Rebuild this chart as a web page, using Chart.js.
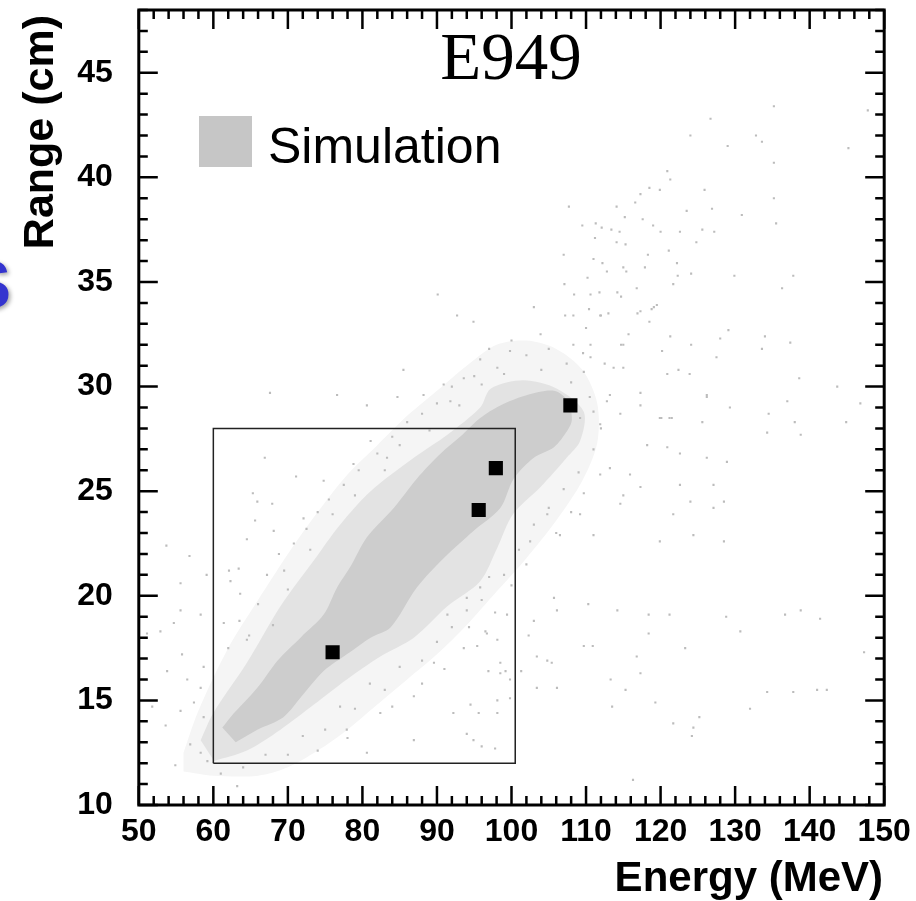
<!DOCTYPE html>
<html>
<head>
<meta charset="utf-8">
<script src="https://cdn.jsdelivr.net/npm/chart.js@4.4.1/dist/chart.umd.min.js"></script>
<style>
  html, body { margin: 0; padding: 0; background: #fff; }
  #wrap { width: 916px; height: 901px; }
</style>
</head>
<body>
<div id="wrap"><canvas id="erChart" width="916" height="901"></canvas></div>
<script>
// Axis tick labels
const energyTicks = [50, 60, 70, 80, 90, 100, 110, 120, 130, 140, 150];
const rangeTicks = [10, 15, 20, 25, 30, 35, 40, 45];

// Measured events (black squares)
const eventEnergy = [76.0, 95.6, 97.9, 107.9];
const eventRange = [17.3, 24.1, 26.1, 29.1];

// Signal box
const boxEnergy = [60, 60, 100.5, 100.5, 60];
const boxRange = [12, 28, 28, 12, 12];

// Simulation: dense core of the band, looser halo, faint outer fringe
const coreOutline = [
  [61.2, 13.7], [62.3, 14.2], [65.9, 15.6], [68.6, 16.9], [71.7, 18.0], [74.8, 19.1],
  [76.6, 20.4], [78.4, 21.4], [80.6, 22.8], [84.2, 24.2], [87.3, 25.6], [90.5, 26.8],
  [93.1, 27.6], [95.8, 28.5], [98.5, 29.1], [102.1, 29.6], [105.7, 29.8], [107.6, 29.3],
  [108.1, 28.4], [107.5, 27.9], [105.7, 27.1], [103.0, 26.6], [100.3, 25.6], [98.5, 24.2],
  [94.9, 23.1], [90.9, 21.8], [87.3, 20.4], [83.8, 18.5], [81.1, 18.0], [77.9, 17.2],
  [74.8, 16.4], [72.1, 15.3], [69.4, 14.2], [65.9, 13.6], [63.0, 13.0]
];
const haloOutline = [
  [58.3, 13.1], [60.0, 14.4], [64.5, 16.8], [69.0, 19.5], [73.5, 21.7], [77.0, 23.4],
  [81.1, 25.0], [86.9, 26.6], [91.4, 27.7], [95.8, 29.0], [97.2, 29.9], [101.6, 30.3],
  [106.1, 29.9], [109.7, 28.8], [109.2, 27.4], [107.4, 26.6], [103.9, 25.2], [100.2, 23.9],
  [98.1, 22.3], [95.8, 20.7], [91.4, 19.5], [86.9, 18.0], [82.4, 17.1], [77.9, 16.0],
  [73.5, 14.8], [69.0, 13.6], [64.5, 12.6], [60.1, 12.1]
];
const fringeOutline = [
  [56.0, 12.5], [58.0, 14.5], [62.0, 17.5], [66.0, 19.8], [70.0, 22.0], [74.0, 24.0],
  [78.0, 25.8], [82.0, 27.2], [86.0, 28.6], [90.0, 29.8], [94.0, 31.0], [98.0, 32.0],
  [102.0, 32.2], [106.0, 31.8], [109.5, 30.8], [111.5, 29.2], [111.5, 27.3], [109.5, 25.5],
  [106.0, 23.6], [102.0, 21.8], [98.0, 20.2], [94.0, 18.6], [90.0, 17.2], [86.0, 16.0],
  [82.0, 14.8], [78.0, 13.6], [74.0, 12.6], [70.0, 11.8], [66.0, 11.4], [60.0, 11.4],
  [56.0, 11.6]
];
// Simulation: scattered events outside the band
const simScatter = [
  [135.2, 43.4], [126.7, 42.8], [124.0, 42.0], [132.8, 42.0], [133.6, 41.7], [129.0, 41.5],
  [145.2, 41.4], [147.8, 43.2], [135.2, 40.7], [120.9, 40.3], [121.3, 39.9], [118.5, 39.5],
  [119.9, 39.4], [117.3, 39.2], [125.9, 39.4], [135.2, 39.0], [107.7, 38.6], [114.1, 38.6],
  [116.6, 38.8], [123.5, 38.4], [126.9, 38.5], [130.9, 38.2], [115.2, 38.1], [117.6, 38.0],
  [135.5, 37.8], [109.5, 37.7], [111.3, 37.8], [112.1, 37.6], [113.4, 37.5], [114.5, 37.4],
  [119.0, 37.7], [120.0, 37.4], [122.6, 37.4], [125.6, 37.5], [127.2, 37.4], [111.2, 37.1],
  [114.1, 36.9], [115.3, 36.8], [124.8, 36.9], [121.1, 36.5], [118.3, 36.3], [107.0, 36.3],
  [111.0, 36.1], [112.2, 35.9], [112.8, 35.5], [115.0, 35.7], [115.4, 35.5], [117.9, 35.7],
  [122.2, 35.9], [122.3, 35.3], [124.1, 35.4], [129.9, 35.3], [137.8, 35.3], [110.2, 35.2],
  [107.1, 34.9], [108.4, 34.4], [110.6, 34.4], [111.8, 34.5], [114.2, 34.5], [114.7, 34.3],
  [116.8, 34.7], [121.7, 34.9], [136.3, 34.7], [119.5, 33.9], [118.8, 33.7], [110.4, 33.7],
  [112.0, 33.4], [113.0, 33.5], [116.9, 33.5], [118.5, 33.1], [107.2, 33.4], [110.0, 32.8],
  [115.7, 32.5], [121.3, 32.4], [129.1, 32.7], [128.0, 32.3], [134.0, 32.4], [137.4, 32.1],
  [124.1, 32.0], [120.2, 31.7], [133.6, 31.8], [114.7, 32.0], [108.3, 32.0], [109.6, 31.6],
  [110.6, 31.4], [127.5, 31.4], [112.5, 31.1], [115.0, 30.9], [120.9, 30.6], [122.4, 30.8],
  [123.9, 30.6], [138.6, 30.4], [143.7, 30.0], [117.3, 29.7], [126.2, 29.6], [113.2, 29.6],
  [137.0, 29.3], [146.8, 29.2], [129.3, 29.0], [117.3, 29.1], [121.5, 28.5], [134.5, 28.7],
  [138.0, 28.3], [144.9, 28.3], [125.6, 28.3], [134.3, 27.8], [138.8, 27.7], [111.9, 28.2],
  [120.1, 28.5], [119.9, 28.5], [121.2, 28.5], [126.2, 29.5], [118.2, 27.2], [120.9, 27.1],
  [122.6, 26.8], [126.2, 26.6], [128.9, 26.4], [113.2, 26.1], [115.9, 25.8], [117.3, 25.2],
  [122.6, 25.3], [127.1, 25.3], [115.0, 24.8], [124.0, 24.5], [128.5, 24.5], [109.7, 24.9],
  [111.9, 25.8], [109.2, 23.9], [114.6, 24.4], [121.7, 23.9], [127.1, 24.2], [106.5, 22.9],
  [111.0, 22.9], [119.9, 22.6], [124.4, 22.9], [128.5, 22.6], [104.8, 23.9], [105.7, 19.9],
  [102.5, 22.6], [104.8, 16.9], [106.1, 19.3], [110.3, 19.6], [114.2, 19.3], [118.4, 19.1],
  [121.2, 19.1], [128.8, 19.0], [136.7, 19.1], [138.8, 19.3], [141.4, 18.9], [102.3, 18.1],
  [103.0, 18.8], [118.4, 18.2], [130.7, 18.3], [109.7, 17.6], [110.9, 17.6], [123.3, 17.5],
  [103.4, 17.1], [116.8, 17.1], [105.4, 16.8], [101.3, 16.4], [117.3, 16.3], [147.3, 17.3],
  [113.3, 16.0], [103.4, 15.6], [106.1, 15.6], [115.3, 15.5], [134.3, 15.4], [137.8, 15.4],
  [141.0, 15.5], [142.3, 15.5], [119.3, 14.9], [113.5, 14.7], [132.0, 14.6], [125.2, 14.2],
  [121.7, 13.9], [124.4, 13.7], [124.2, 13.3], [116.3, 11.2], [97.8, 19.2], [94.3, 18.5],
  [96.5, 18.3], [98.1, 17.9], [95.4, 17.6], [98.5, 16.8], [99.2, 16.4], [96.9, 16.4],
  [99.8, 16.0], [94.5, 14.8], [95.6, 14.4], [98.1, 14.4], [94.0, 13.4], [96.0, 12.8],
  [97.8, 12.7], [99.8, 15.1], [91.4, 19.1], [95.8, 20.4], [89.6, 16.8], [93.6, 17.5],
  [86.9, 15.2], [82.4, 14.4], [92.2, 14.4], [77.9, 13.6], [86.9, 13.1], [94.9, 13.1],
  [98.1, 15.0], [80.6, 12.5], [98.5, 16.3], [96.7, 18.2], [99.4, 19.1], [94.0, 19.9],
  [51.1, 18.2], [52.9, 18.3], [54.7, 18.7], [55.8, 17.2], [53.8, 16.4], [56.5, 16.0],
  [58.7, 16.6], [58.3, 15.6], [57.4, 14.9], [55.6, 14.5], [53.6, 13.8], [58.7, 14.2],
  [56.9, 12.9], [58.3, 12.5], [54.9, 11.9], [59.2, 12.1], [51.8, 14.7], [63.2, 10.9],
  [61.0, 11.5], [55.6, 19.3], [58.3, 19.1], [53.7, 22.4], [56.8, 21.9], [55.6, 20.6],
  [59.1, 21.0], [67.6, 29.7], [66.9, 26.6], [65.3, 24.9], [68.1, 23.1], [64.5, 22.7],
  [65.9, 24.5], [71.1, 25.7], [67.9, 24.4], [65.6, 23.6], [62.1, 21.2], [63.4, 21.3],
  [68.8, 22.0], [63.6, 20.1], [72.1, 23.7], [74.8, 25.5], [78.8, 26.3], [81.1, 27.4],
  [83.3, 26.6], [84.7, 29.5], [80.6, 29.1], [76.6, 29.6], [88.2, 29.6], [62.3, 20.7],
  [61.4, 18.7], [64.5, 17.9], [94.9, 33.1], [103.0, 33.8], [92.7, 33.4], [99.8, 31.7],
  [95.8, 31.3], [103.9, 32.5], [108.3, 33.4], [111.9, 33.4], [117.3, 33.6], [119.1, 33.8],
  [91.8, 29.3], [93.6, 30.4], [90.9, 30.1], [98.1, 30.9], [107.4, 31.1], [109.7, 30.7],
  [110.6, 32.0], [113.7, 30.9], [115.0, 32.0], [112.8, 29.3], [114.6, 28.7], [109.2, 28.5],
  [111.0, 28.8], [90.1, 34.4], [85.5, 30.8],
  // looser events hugging the band
  [62.0, 17.5], [63.5, 18.8], [66.0, 19.6], [67.2, 21.0], [69.5, 21.2], [70.8, 22.5],
  [72.5, 23.2], [74.0, 24.0], [75.5, 24.6], [77.5, 25.3], [79.5, 26.0], [82.0, 26.8],
  [84.0, 27.6], [86.0, 28.3], [88.0, 28.7], [90.0, 29.2], [92.0, 30.0], [95.0, 30.5],
  [97.0, 31.8], [100.0, 32.2], [102.0, 31.5], [105.0, 31.8], [104.0, 30.8], [108.0, 30.2],
  [70.0, 20.3], [73.0, 22.2], [76.0, 23.9], [79.0, 24.8], [83.0, 26.0], [85.0, 27.2],
  [89.0, 27.9], [93.0, 29.1], [96.0, 30.1], [99.0, 30.6], [68.0, 18.6], [64.8, 18.1],
  [64.0, 11.8], [67.0, 12.4], [70.0, 12.4], [72.0, 13.3], [75.0, 13.6], [77.0, 14.7],
  [79.0, 14.6], [81.0, 15.8], [83.0, 15.5], [85.0, 16.6], [88.0, 16.9], [90.0, 17.8],
  [92.0, 18.5], [94.0, 19.3], [96.0, 19.8], [99.0, 21.0], [101.0, 22.2], [103.0, 23.4],
  [105.0, 24.2], [107.0, 25.1], [109.0, 25.9], [111.0, 27.0], [112.0, 28.0], [110.5, 29.5],
  [74.0, 12.6], [78.0, 13.2], [84.0, 14.7], [88.0, 15.8], [91.0, 16.5], [97.0, 20.9],
  [100.0, 20.5], [102.0, 21.5], [106.0, 23.0], [108.0, 24.0]
];

const simGray = '#c6c6c6';
const toXY = pts => pts.map(p => ({ x: p[0], y: p[1] }));
const pairXY = (xs, ys) => xs.map((v, i) => ({ x: v, y: ys[i] }));

Chart.defaults.font.family = '"Liberation Sans", Arial, Helvetica, sans-serif';

// ROOT-style frame: thick border with inward major/minor ticks on all sides, plus texts
const framePlugin = {
  id: 'frame',
  afterDatasetsDraw(chart) {
    const { ctx, chartArea: a, scales: { x, y } } = chart;
    ctx.save();
    ctx.strokeStyle = '#000';
    ctx.lineWidth = 2.5;
    ctx.beginPath();
    for (let v = 50; v <= 150; v += 2) {
      const px = x.getPixelForValue(v);
      const len = v % 10 === 0 ? 19 : 9;
      ctx.moveTo(px, a.bottom); ctx.lineTo(px, a.bottom - len);
      ctx.moveTo(px, a.top); ctx.lineTo(px, a.top + len);
    }
    for (let v = 10; v <= 48; v += 1) {
      const py = y.getPixelForValue(v);
      const len = v % 5 === 0 ? 19 : 9;
      ctx.moveTo(a.left, py); ctx.lineTo(a.left + len, py);
      ctx.moveTo(a.right, py); ctx.lineTo(a.right - len, py);
    }
    ctx.stroke();
    ctx.lineWidth = 3;
    ctx.strokeRect(a.left, a.top, a.right - a.left, a.bottom - a.top);

    // title
    ctx.fillStyle = '#000';
    ctx.font = '67px "Liberation Serif", "Times New Roman", serif';
    ctx.textAlign = 'center';
    ctx.textBaseline = 'alphabetic';
    ctx.fillText('E949', 511, 79);

    // legend
    ctx.fillStyle = simGray;
    ctx.fillRect(199, 116, 53, 51);
    ctx.fillStyle = '#000';
    ctx.font = '50px "Liberation Sans", Arial, sans-serif';
    ctx.textAlign = 'left';
    ctx.fillText('Simulation', 268, 163);

    // axis titles
    ctx.textAlign = 'right';
    ctx.font = 'bold 42px "Liberation Sans", Arial, sans-serif';
    ctx.fillText('Energy (MeV)', 883, 891);
    ctx.save();
    ctx.translate(53, 15);
    ctx.rotate(-Math.PI / 2);
    ctx.font = 'bold 43px "Liberation Sans", Arial, sans-serif';
    ctx.fillText('Range (cm)', 0, 0);
    ctx.restore();

    // clipped blue letter at the left edge (from the slide behind the plot)
    ctx.save();
    ctx.shadowColor = 'rgba(0,0,0,0.35)';
    ctx.shadowBlur = 4;
    ctx.shadowOffsetX = 2;
    ctx.shadowOffsetY = 2;
    ctx.fillStyle = '#3434cf';
    ctx.font = 'bold 68px "Liberation Sans", Arial, sans-serif';
    ctx.textAlign = 'right';
    ctx.fillText('S', 11, 308);
    ctx.restore();

    ctx.restore();
  }
};

const tickFont = { size: 32, weight: 'bold' };

new Chart(document.getElementById('erChart').getContext('2d'), {
  type: 'scatter',
  data: {
    datasets: [
      {
        label: 'Data',
        data: pairXY(eventEnergy, eventRange),
        pointStyle: 'rect',
        pointRadius: 10,
        backgroundColor: '#000',
        borderWidth: 0
      },
      {
        label: 'Box',
        type: 'line',
        data: pairXY(boxEnergy, boxRange),
        borderColor: '#222',
        borderWidth: 1.5,
        pointRadius: 0,
        fill: false,
        tension: 0
      },
      {
        label: 'Simulation',
        data: toXY(simScatter),
        pointStyle: 'rect',
        pointRadius: 1.5,
        backgroundColor: '#bcbcbc',
        borderWidth: 0
      },
      {
        label: 'Core',
        type: 'line',
        data: toXY(coreOutline),
        borderColor: 'rgba(0,0,0,0)',
        borderWidth: 0,
        backgroundColor: '#cdcdcd',
        fill: 'shape',
        pointRadius: 0,
        tension: 0.3
      },
      {
        label: 'Halo',
        type: 'line',
        data: toXY(haloOutline),
        borderColor: 'rgba(0,0,0,0)',
        borderWidth: 0,
        backgroundColor: '#e3e3e3',
        fill: 'shape',
        pointRadius: 0,
        tension: 0.3
      },
      {
        label: 'Fringe',
        type: 'line',
        data: toXY(fringeOutline),
        borderColor: 'rgba(0,0,0,0)',
        borderWidth: 0,
        backgroundColor: '#f5f5f5',
        fill: 'shape',
        pointRadius: 0,
        tension: 0.3
      }
    ]
  },
  options: {
    responsive: false,
    animation: false,
    layout: { padding: { top: 7.3, right: 31.8, bottom: 0, left: 0 } },
    plugins: {
      legend: { display: false },
      tooltip: { enabled: false }
    },
    scales: {
      x: {
        type: 'linear',
        min: 50,
        max: 150,
        grid: { display: false, drawTicks: false },
        border: { display: false },
        ticks: { padding: 8, color: '#000', font: tickFont },
        afterBuildTicks: s => { s.ticks = energyTicks.map(v => ({ value: v })); },
        afterFit: s => { s.height = 96; s.paddingLeft = 0; s.paddingRight = 0; }
      },
      y: {
        type: 'linear',
        min: 10,
        max: 48,
        grid: { display: false, drawTicks: false },
        border: { display: false },
        ticks: { padding: 26, color: '#000', font: tickFont },
        afterBuildTicks: s => { s.ticks = rangeTicks.map(v => ({ value: v })); },
        afterFit: s => { s.width = 138.8; s.paddingTop = 0; s.paddingBottom = 0; }
      }
    }
  },
  plugins: [framePlugin]
});
</script>
</body>
</html>
